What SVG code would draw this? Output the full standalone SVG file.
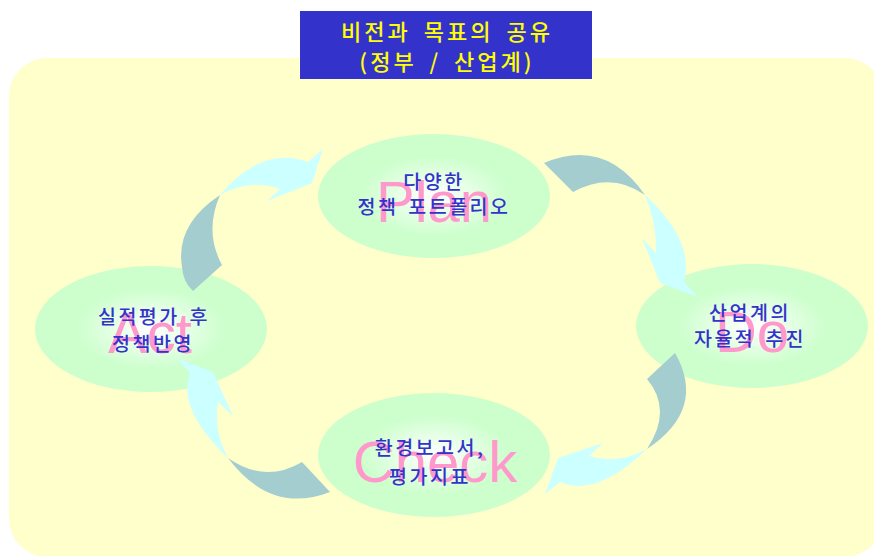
<svg xmlns="http://www.w3.org/2000/svg" width="874" height="556" viewBox="0 0 874 556">
  <style>
    .ell { fill: url(#eg); }
    .big { font-family: "Liberation Sans", Arial, sans-serif; font-size: 58px; fill: #FF99CC; text-anchor: middle; }
    .lbl { font-family: "Noto Sans CJK KR", "Noto Sans", sans-serif; font-size: 19.5px; font-weight: 500; fill: #3333CC; text-anchor: middle; letter-spacing: 2.5px; word-spacing: 3px; }
    .ttl { font-family: "Noto Sans CJK KR", "Noto Sans", sans-serif; font-size: 22px; font-weight: 500; fill: #FFFF00; text-anchor: middle; letter-spacing: 3px; word-spacing: 5px; }
    .tail { fill: #A3CDCF; }
    .head { fill: #CCFFFF; }
  </style>
  <defs>
    <radialGradient id="eg" cx="50%" cy="50%" r="50%">
      <stop offset="0" stop-color="#FFFFFF"/>
      <stop offset="0.65" stop-color="#CCFFCC"/>
      <stop offset="1" stop-color="#CCFFCC"/>
    </radialGradient>
  </defs>
  <rect width="874" height="556" fill="#FFFFFF"/>
  <rect id="background" x="9" y="58" width="874" height="499" rx="38" ry="38" fill="#FFFFCC"/>

  <g id="title">
    <rect x="300" y="11" width="292" height="68" fill="#3333CC"/>
    <text class="ttl" x="447" y="40">비전과 목표의 공유</text>
    <text class="ttl" x="447" y="70">(정부 / 산업계)</text>
  </g>

  <g id="plan">
    <ellipse class="ell" cx="434" cy="196" rx="116" ry="62"/>
    <text class="big" x="434" y="222">Plan</text>
    <text class="lbl" x="434" y="189">다양한</text>
    <text class="lbl" x="434" y="214">정책 포트폴리오</text>
  </g>

  <g id="do">
    <ellipse class="ell" cx="752" cy="326" rx="116" ry="62"/>
    <text class="big" x="752" y="352">Do</text>
    <text class="lbl" x="750" y="320">산업계의</text>
    <text class="lbl" x="750" y="346">자율적 추진</text>
  </g>

  <g id="act">
    <ellipse class="ell" cx="151" cy="329" rx="116" ry="63"/>
    <text class="big" x="150" y="353">Act</text>
    <text class="lbl" x="154" y="324">실적평가 후</text>
    <text class="lbl" x="153" y="351">정책반영</text>
  </g>

  <g id="check">
    <ellipse class="ell" cx="434" cy="455" rx="116" ry="62"/>
    <text class="big" x="435" y="482">Check</text>
    <text class="lbl" x="430" y="455">환경보고서,</text>
    <text class="lbl" x="430" y="484">평가지표</text>
  </g>

  <g id="connectors">
    <!-- Act -> Plan -->
    <path class="tail" d="M220,195 Q175,225 182,267 Q183,282 193,291 L222,265 Q204,232 220,195 Z"/>
    <path class="head" d="M220,195 Q262,145 308,162 L323,149 L312,183 L267,201 L280,189 Q250,178 220,195 Z"/>
    <!-- Plan -> Do -->
    <path class="tail" d="M544,163 Q605,137 645,195 Q611,171 573,192 Z"/>
    <path class="head" d="M645,195 Q695,241 684,282 L698,297 L660,283 L642,238 L656,253 Q657,224 645,195 Z"/>
    <!-- Do -> Check -->
    <path class="tail" d="M647,379 L675,353 Q707,409 647,449 Q673,410 647,379 Z"/>
    <path class="head" d="M647,449 Q596,498 560,482 L545,494 L558,458 L603,443 L589,456 Q618,465 647,449 Z"/>
    <!-- Check -> Act -->
    <path class="tail" d="M330,492 L302,462 Q265,484 228,458 Q271,515 330,492 Z"/>
    <path class="head" d="M228,458 Q177,410 190,373 L176,358 L213,372 L233,416 L218,402 Q213,430 228,458 Z"/>
  </g>
</svg>
